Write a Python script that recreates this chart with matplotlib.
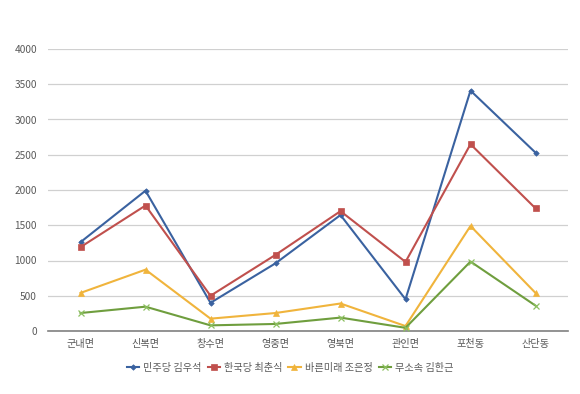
import matplotlib
matplotlib.use("Agg")
import matplotlib.pyplot as plt

plt.rcParams['font.family'] = ['Noto Sans CJK KR', 'DejaVu Sans']

categories = ["군내면", "신복면", "창수면", "영중면", "영북면", "관인면", "포천동", "산단동"]
series_names = ["민주당 김우석", "한국당 최춘식", "바른미래 조은정", "무소속 김한근"]
kim_woo_seok = [1260, 1990, 400, 960, 1645, 450, 3410, 2530]
choi_chun_sik = [1190, 1780, 500, 1080, 1700, 980, 2650, 1740]
jo_eun_jeong = [540, 870, 175, 255, 390, 70, 1490, 540]
kim_han_geun = [255, 345, 80, 100, 190, 45, 985, 360]
yticks = [0, 500, 1000, 1500, 2000, 2500, 3000, 3500, 4000]

colors = ["#3A62A0", "#C0504D", "#F0B43C", "#6F9E3E"]
marker_colors = ["#3A62A0", "#C0504D", "#F0B43C", "#8CC060"]
markers = ["D", "s", "^", "x"]
msizes = [2.8, 4.2, 4.2, 4.2]

fig = plt.figure(figsize=(5.8, 3.94), dpi=100)
ax = fig.add_axes([48/580, (394-331)/394, 520/580, (331-49)/394])

x = list(range(len(categories)))
for vals, name, c, mc, m, ms in zip([kim_woo_seok, choi_chun_sik, jo_eun_jeong, kim_han_geun],
                                    series_names, colors, marker_colors, markers, msizes):
    ax.plot(x, vals, color=c, lw=1.5, marker=m, markersize=ms, label=name,
            markerfacecolor=mc, markeredgecolor=mc,
            markeredgewidth=0.9 if m == "x" else 0.5, zorder=3)

ax.set_xlim(-0.5, len(categories) - 0.5)
ax.set_ylim(0, 4000)
ax.set_yticks(yticks)
ax.set_yticklabels([str(v) for v in yticks], fontsize=7.3, color="#595959")
ax.set_xticks(x)
ax.set_xticklabels(categories, fontsize=7.3, color="#595959")
ax.grid(axis='y', color="#D0D0D0", lw=0.9, zorder=0)
for s in ["top", "right", "left"]:
    ax.spines[s].set_visible(False)
ax.spines["bottom"].set_color("#808080")
ax.spines["bottom"].set_linewidth(1.2)
ax.tick_params(axis='both', length=0, pad=6)
ax.tick_params(axis='y', pad=8)

fig.legend(loc="center", bbox_to_anchor=(0.5, (394-368)/394), ncol=4, frameon=False,
           fontsize=7.3, labelcolor="#595959", handlelength=1.2, handletextpad=0.4,
           columnspacing=0.6)

fig.savefig("out.png", dpi=100, facecolor="white")
